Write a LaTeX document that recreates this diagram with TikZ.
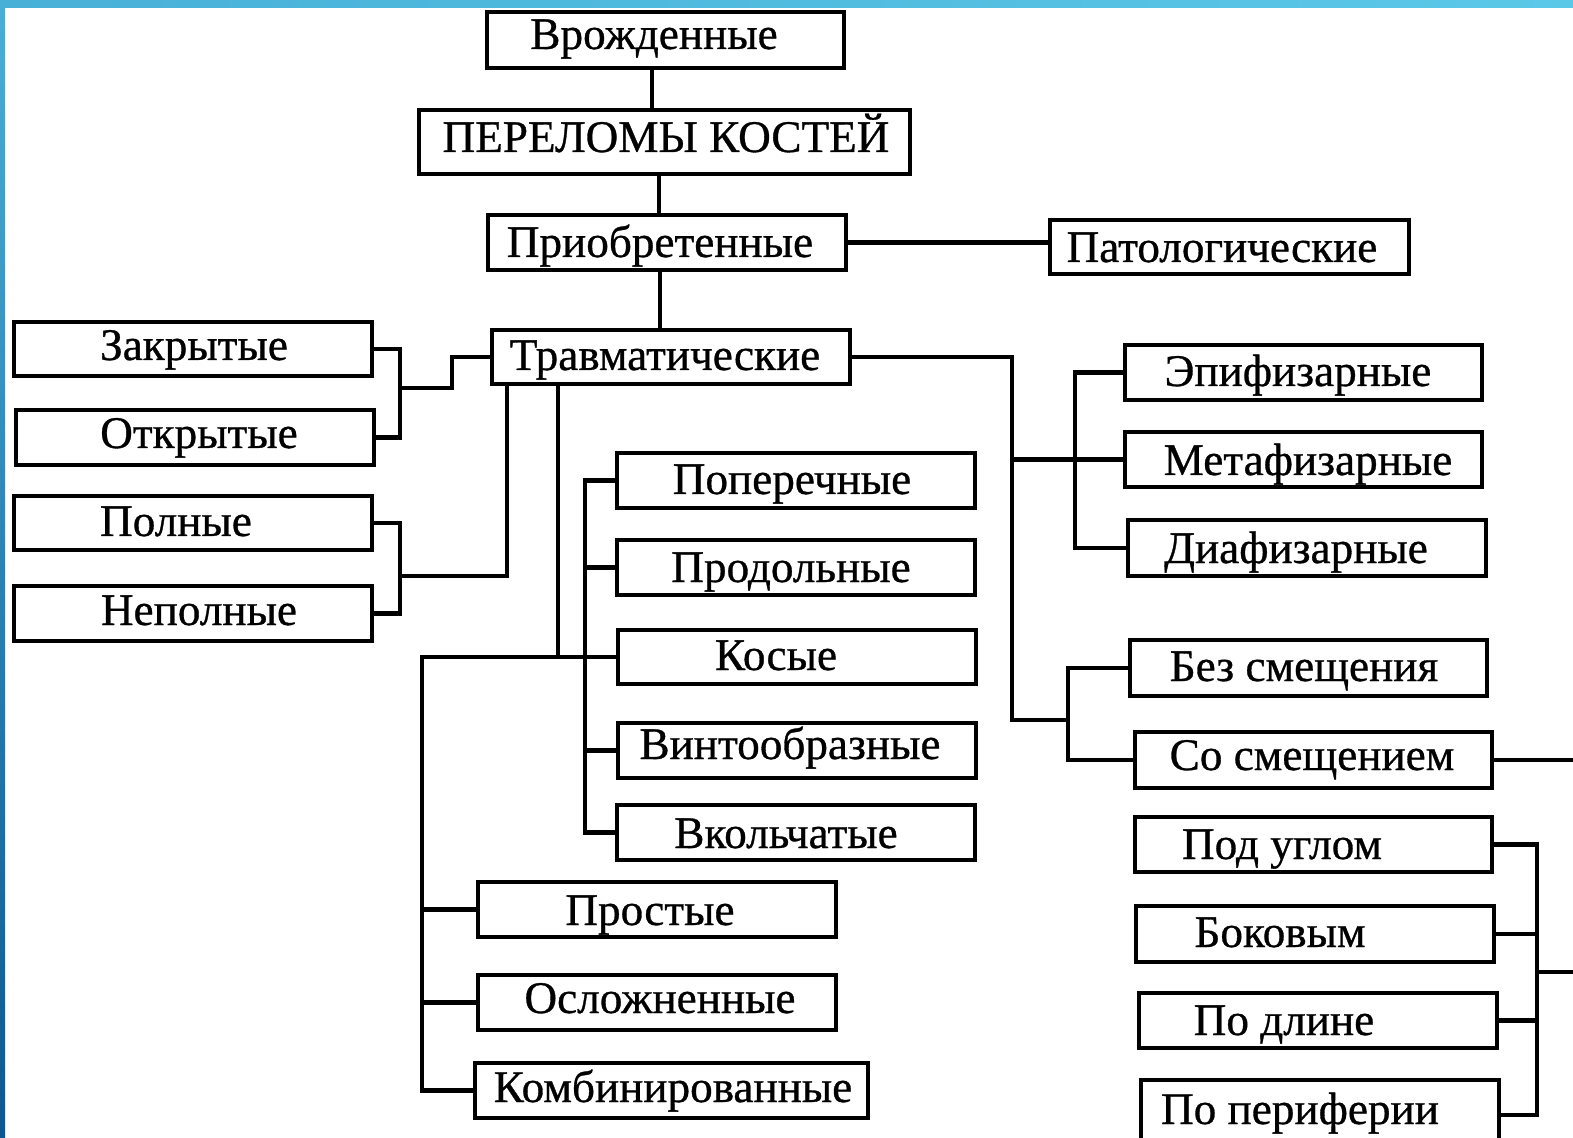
\documentclass[tikz,border=0pt]{standalone}
\usepackage{fontspec}
\setmainfont{Liberation Serif}
\newfontfamily\diagfont{Liberation Serif}[RawFeature={embolden=0.7}]
\begin{document}
\begin{tikzpicture}[x=0.5pt,y=-0.5pt,
  boxst/.style={draw=black, line width=2.3pt, fill=white, rectangle, inner sep=0pt},
  txt/.style={font=\diagfont\fontsize{22.6pt}{26pt}\selectfont, inner sep=0pt, anchor=base, text=black},
  conn/.style={draw=black, line width=2.3pt, line cap=rect}]
\useasboundingbox (0,0) rectangle (1573,1138);
\fill[white] (0,0) rectangle (1573,1138);
% frame strips
\shade[left color={rgb,255:red,72;green,176;blue,215}, right color={rgb,255:red,92;green,200;blue,232}] (0,0) rectangle (1573,8);
\shade[top color={rgb,255:red,72;green,176;blue,215}, bottom color={rgb,255:red,10;green,88;blue,148}] (0,0) rectangle (5,1138);

\newcommand\bx[8]{%
  \node[boxst, minimum width={(#4-#2)*0.5pt}, minimum height={(#5-#3)*0.5pt}] (#1) at ({(#2+#4)/2},{(#3+#5)/2}) {};
  \node[txt] (#1t) at (#6,#7) {#8};}

\bx{vro}{487}{12}{844}{68}{654}{49}{Врожденные}
\bx{per}{419}{110}{910}{174}{666}{152}{ПЕРЕЛОМЫ КОСТЕЙ}
\bx{pri}{488}{215}{846}{270}{660}{257}{Приобретенные}
\bx{pat}{1050}{220}{1409}{274}{1222}{262}{Патологические}
\bx{tra}{492}{330}{850}{384}{665}{370}{Травматические}
\bx{zak}{14}{322}{372}{376}{194}{360}{Закрытые}
\bx{otk}{16}{410}{374}{465}{199}{448}{Открытые}
\bx{pol}{14}{496}{372}{550}{176}{536}{Полные}
\bx{nep}{14}{586}{372}{641}{199}{625}{Неполные}
\bx{pop}{617}{453}{975}{508}{792}{494}{Поперечные}
\bx{prd}{617}{540}{975}{595}{791}{582}{Продольные}
\bx{kos}{618}{630}{976}{684}{776}{670}{Косые}
\bx{vin}{618}{723}{976}{778}{790}{759}{Винтообразные}
\bx{vko}{617}{805}{975}{860}{786}{848}{Вкольчатые}
\bx{pst}{478}{882}{836}{937}{650}{925}{Простые}
\bx{osl}{478}{975}{836}{1030}{660}{1013}{Осложненные}
\bx{kom}{475}{1063}{868}{1118}{673}{1102}{Комбинированные}
\bx{epi}{1125}{345}{1482}{400}{1298}{386}{Эпифизарные}
\bx{met}{1125}{432}{1482}{487}{1308}{475}{Метафизарные}
\bx{dia}{1128}{520}{1486}{576}{1296}{563}{Диафизарные}
\bx{bez}{1130}{640}{1487}{696}{1304}{681}{Без смещения}
\bx{sos}{1135}{732}{1492}{788}{1312}{770}{Со смещением}
\bx{pug}{1135}{817}{1492}{872}{1282}{859}{Под углом}
\bx{bok}{1136}{906}{1494}{962}{1280}{947}{Боковым}
\bx{pdl}{1139}{993}{1497}{1048}{1284}{1035}{По длине}
\bx{ppe}{1141}{1080}{1499}{1150}{1300}{1124}{По периферии}

% helper coordinates
\coordinate (a1) at (652,0);
\coordinate (a2) at (659,0);
\coordinate (a3) at (660,0);
\coordinate (l1) at (400,388);
\coordinate (l1b) at (452,388);
\coordinate (l2) at (400,576);
\coordinate (t1) at (507,0);
\coordinate (t2) at (558,0);
\coordinate (m1) at (422,657);
\coordinate (b1) at (585,0);
\coordinate (rj) at (1012,720);
\coordinate (rb) at (1068,720);
\coordinate (eb) at (1075,0);
\coordinate (sb) at (1537,0);
\coordinate (sj) at (1537,972);
\coordinate (edge) at (1580,0);

\begin{scope}[conn]
\draw (vro.south -| a1) -- (per.north -| a1);
\draw (per.south -| a2) -- (pri.north -| a2);
\draw (pri.east) -- (pri.east -| pat.west);
\draw (pri.south -| a3) -- (tra.north -| a3);
% left
\draw (zak.east) -| (l1) |- (otk.east);
\draw (l1) -- (l1b) |- (tra.west);
\draw (pol.east) -| (l2) |- (nep.east);
\draw (l2) -| (tra.south -| t1);
% middle
\draw (tra.south -| t2) |- (m1);
\draw (m1) -- (kos.west);
\draw (pop.west) -- (pop.west -| b1) -- (vko.west -| b1) -- (vko.west);
\draw (prd.west) -- (prd.west -| b1);
\draw (vin.west) -- (vin.west -| b1);
\draw (m1) |- (kom.west);
\draw (pst.west) -- (pst.west -| m1);
\draw (osl.west) -- (osl.west -| m1);
% right
\draw (tra.east) -| (rj) -- (rb);
\draw (bez.west) -| (rb) |- (sos.west);
\draw (rj |- met.west) -- (met.west);
\draw (epi.west) -- (epi.west -| eb) -- (dia.west -| eb) -- (dia.west);
\draw (sos.east) -- (sos.east -| edge);
\draw (pug.east) -- (pug.east -| sb) -- (ppe.east -| sb) -- (ppe.east);
\draw (bok.east) -- (bok.east -| sb);
\draw (pdl.east) -- (pdl.east -| sb);
\draw (sj) -- (sj -| edge);
\end{scope}
\end{tikzpicture}
\end{document}
